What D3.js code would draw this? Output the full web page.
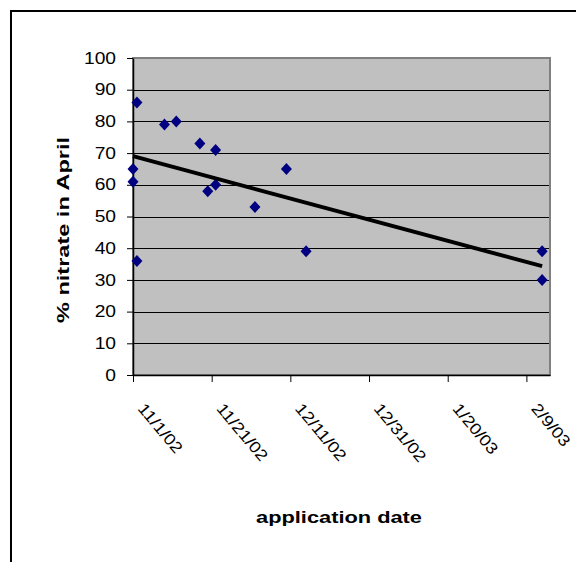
<!DOCTYPE html>
<html>
<head>
<meta charset="utf-8">
<script src="https://cdn.jsdelivr.net/npm/d3@7"></script>
<style>
  html, body { margin: 0; padding: 0; background: #fff; }
  text { font-family: Arial, "Liberation Sans", Helvetica, sans-serif; fill: #000; }
</style>
</head>
<body>
<svg id="chart" width="576" height="562"></svg>
<script>
// Application dates and the share of nitrate still present in April
const appDates = [
  "2002-11-01", "2002-11-01", "2002-11-02", "2002-11-02", "2002-11-09",
  "2002-11-12", "2002-11-18", "2002-11-22", "2002-11-20", "2002-11-22",
  "2002-12-02", "2002-12-10", "2002-12-15", "2003-02-13", "2003-02-13"
];
const nitratePct = [65, 61, 86, 36, 79, 80, 73, 71, 58, 60, 53, 65, 39, 39, 30];

// Axis settings
const xDomain = ["2002-11-01", "2003-02-15"];
const xTickDates = ["2002-11-01", "2002-11-21", "2002-12-11", "2002-12-31", "2003-01-20", "2003-02-09"];
const xTickLabels = ["11/1/02", "11/21/02", "12/11/02", "12/31/02", "1/20/03", "2/9/03"];
const yTicks = [0, 10, 20, 30, 40, 50, 60, 70, 80, 90, 100];

const parse = d3.utcParse("%Y-%m-%d");
const svg = d3.select("#chart");

const plotLeft = 133, plotRight = 550, plotTop = 58, plotBottom = 375;
const x = d3.scaleUtc().domain(xDomain.map(parse)).range([plotLeft, plotRight]);
const y = d3.scaleLinear().domain([0, 100]).range([plotBottom, plotTop]);

// Stretch a text element along its baseline
function fitText(sel, factor) {
  sel.each(function () {
    const w = this.getComputedTextLength();
    d3.select(this).attr("textLength", w * factor).attr("lengthAdjust", "spacingAndGlyphs");
  });
}

// Outer chart frame
svg.append("path")
  .attr("d", "M11,562 V11 H576")
  .attr("fill", "none").attr("stroke", "#000").attr("stroke-width", 2);

// Plot area
svg.append("rect")
  .attr("x", plotLeft).attr("y", plotTop)
  .attr("width", plotRight - plotLeft).attr("height", plotBottom - plotTop)
  .attr("fill", "#c0c0c0");

// Horizontal gridlines
svg.append("g").selectAll("line")
  .data(yTicks.filter(v => v > 0 && v < 100))
  .join("line")
  .attr("x1", plotLeft).attr("x2", plotRight)
  .attr("y1", d => Math.round(y(d)) + 0.5).attr("y2", d => Math.round(y(d)) + 0.5)
  .attr("stroke", "#000").attr("stroke-width", 1);

// Plot border
svg.append("rect")
  .attr("x", plotLeft).attr("y", plotTop)
  .attr("width", plotRight - plotLeft).attr("height", plotBottom - plotTop)
  .attr("fill", "none").attr("stroke", "#808080").attr("stroke-width", 2);

// Y axis
const yAxis = svg.append("g")
  .attr("transform", `translate(${plotLeft},0)`)
  .call(d3.axisLeft(y).tickValues(yTicks).tickSize(6).tickPadding(11).tickSizeOuter(0));
yAxis.select(".domain").attr("stroke", "#000").attr("stroke-width", 1.5);
yAxis.selectAll(".tick line").attr("stroke", "#000");
yAxis.selectAll(".tick text")
  .style("font-size", "16px").style("font-family", "Arial, 'Liberation Sans', sans-serif")
  .attr("fill", "#000")
  .call(fitText, 1.2);

// X axis
const xAxis = svg.append("g")
  .attr("transform", `translate(0,${plotBottom})`)
  .call(d3.axisBottom(x).tickValues(xTickDates.map(parse)).tickSize(7).tickSizeOuter(0).tickFormat(() => ""));
xAxis.select(".domain").attr("stroke", "#000").attr("stroke-width", 1.5);
xAxis.selectAll(".tick line").attr("stroke", "#000");

// Rotated date labels
svg.append("g").selectAll("text")
  .data(xTickDates.map((d, i) => ({ date: parse(d), label: xTickLabels[i] })))
  .join("text")
  .attr("transform", d => `translate(${x(d.date) + 4},${plotBottom + 34}) rotate(50)`)
  .attr("text-anchor", "start")
  .style("font-size", "16px")
  .text(d => d.label)
  .call(fitText, 1.14);

// Least-squares trend line
const base = parse(appDates[0]);
const days = appDates.map(d => (parse(d) - base) / 864e5);
const mx = d3.mean(days), my = d3.mean(nitratePct);
const slope = d3.sum(days, (d, i) => (d - mx) * (nitratePct[i] - my)) / d3.sum(days, d => (d - mx) ** 2);
const intercept = my - slope * mx;
const trend = [d3.min(days), d3.max(days)].map(d => ({ date: new Date(+base + d * 864e5), v: intercept + slope * d }));

// Data points
const diamond = "M0,-6L5.5,0L0,6L-5.5,0Z";
svg.append("g").selectAll("path")
  .data(appDates.map((d, i) => ({ date: parse(d), v: nitratePct[i] })))
  .join("path")
  .attr("d", diamond)
  .attr("transform", d => `translate(${x(d.date)},${y(d.v)})`)
  .attr("fill", "#000080");

svg.append("path")
  .datum(trend)
  .attr("d", d3.line().x(d => x(d.date)).y(d => y(d.v)))
  .attr("fill", "none").attr("stroke", "#000").attr("stroke-width", 4);

// Axis titles
svg.append("text")
  .attr("transform", "translate(69,230) rotate(-90)")
  .attr("text-anchor", "middle")
  .style("font-size", "17px").style("font-weight", "bold")
  .attr("textLength", 186).attr("lengthAdjust", "spacingAndGlyphs")
  .text("% nitrate in April");

svg.append("text")
  .attr("x", 339).attr("y", 523)
  .attr("text-anchor", "middle")
  .style("font-size", "17px").style("font-weight", "bold")
  .attr("textLength", 166).attr("lengthAdjust", "spacingAndGlyphs")
  .text("application date");
</script>
</body>
</html>
